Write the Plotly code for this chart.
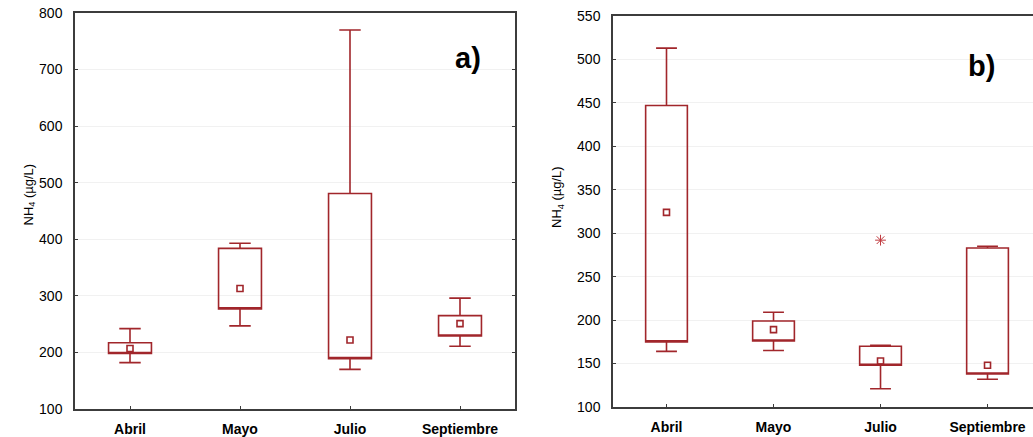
import plotly.graph_objects as go

months = ["Abril", "Mayo", "Julio", "Septiembre"]

# Panel a)
a_min = [182, 247, 170, 211]
a_q1 = [198, 277, 189, 229]
a_mid = [207, 313, 222, 251]
a_q3 = [217, 384, 481, 265]
a_max = [242, 393, 770, 296]

# Panel b)
b_min = [164, 165, 121, 132]
b_q1 = [175, 176, 148, 138]
b_mid = [324, 189, 153, 148]
b_q3 = [447, 199, 170, 283]
b_max = [513, 209, 171, 285]
b_out_x = ["Julio"]
b_out_y = [292]

yticks_a = [100, 200, 300, 400, 500, 600, 700, 800]
yticks_b = [100, 150, 200, 250, 300, 350, 400, 450, 500, 550]
y_title = "NH<sub>4</sub> (µg/L)"

RED = "#a1262b"
AX = "#3c3c3c"
FONT = "Liberation Sans, Arial, sans-serif"
W, H = 1033, 437


def px(x):
    return x / W


def py(y):
    return 1 - y / H


fig = go.Figure()


def add_panel(xa, ya, mn, q1, mid, q3, mx):
    fig.add_trace(go.Box(
        x=months, q1=q1, median=q1, q3=q3, lowerfence=mn, upperfence=mx,
        xaxis=xa, yaxis=ya, width=0.39, whiskerwidth=0.5,
        line=dict(color=RED, width=1.6), fillcolor="rgba(0,0,0,0)",
        boxpoints=False, showlegend=False, hoverinfo="skip"))
    fig.add_trace(go.Scatter(
        x=months, y=mid, xaxis=xa, yaxis=ya, mode="markers",
        marker=dict(symbol="square-open", size=6, color=RED, line=dict(width=1.6, color=RED)),
        showlegend=False, hoverinfo="skip"))


add_panel("x", "y", a_min, a_q1, a_mid, a_q3, a_max)
add_panel("x2", "y2", b_min, b_q1, b_mid, b_q3, b_max)
fig.add_trace(go.Scatter(
    x=b_out_x, y=b_out_y, xaxis="x2", yaxis="y2", mode="markers",
    marker=dict(symbol="asterisk-open", size=9, color="#c0393e", line=dict(width=1, color="#c0393e")),
    showlegend=False, hoverinfo="skip"))

xcommon = dict(type="category", showline=True, linecolor=AX, linewidth=1.5, mirror=True,
               ticks="inside", ticklen=3, tickcolor=AX, showgrid=False, zeroline=False, automargin=False,
               tickfont=dict(family=FONT, size=14, color="#000000"), ticklabelstandoff=6,
               ticklabeloverflow="allow")
ycommon = dict(showline=True, linecolor=AX, linewidth=1.5, ticks="inside", ticklen=3, tickcolor=AX,
               showgrid=True, gridcolor="#f1f1f1", gridwidth=1, zeroline=False, automargin=False,
               tickfont=dict(family=FONT, size=14, color="#000000"), ticklabelstandoff=8,
               ticklabeloverflow="allow")

fig.update_layout(
    width=W, height=H, margin=dict(l=0, r=0, t=0, b=0, autoexpand=False),
    paper_bgcolor="white", plot_bgcolor="white",
    xaxis=dict(xcommon, domain=[px(75), px(515)], range=[-0.5, 3.5],
               tickvals=months, ticktext=["<b>%s</b>" % m for m in months]),
    yaxis=dict(ycommon, domain=[py(409), py(13)], range=[100, 800], tickvals=yticks_a, mirror="allticks"),
    xaxis2=dict(xcommon, domain=[px(613), 1.0], range=[-0.5, 3.425], anchor="y2",
                tickvals=months, ticktext=["<b>%s</b>" % m for m in months]),
    yaxis2=dict(ycommon, domain=[py(407), py(16)], range=[100, 550], tickvals=yticks_b, anchor="x2", mirror=False),
    annotations=[
        dict(text=y_title, x=px(18), y=py(195), xref="paper", yref="paper", showarrow=False, textangle=-90,
             font=dict(family=FONT, size=13, color="#000000")),
        dict(text=y_title, x=px(557), y=py(197), xref="paper", yref="paper", showarrow=False, textangle=-90,
             font=dict(family=FONT, size=13, color="#000000")),
        dict(text="<b>a)</b>", x=px(468), y=py(40), xref="paper", yref="paper", showarrow=False,
             font=dict(family=FONT, size=29, color="#000000")),
        dict(text="<b>b)</b>", x=px(997), y=py(48), xref="paper", yref="paper", showarrow=False,
             font=dict(family=FONT, size=29, color="#000000")),
    ],
)

fig.write_html("out.html", config={"displayModeBar": False},
               post_script="document.body.style.margin='0';document.body.style.overflow='hidden';")
